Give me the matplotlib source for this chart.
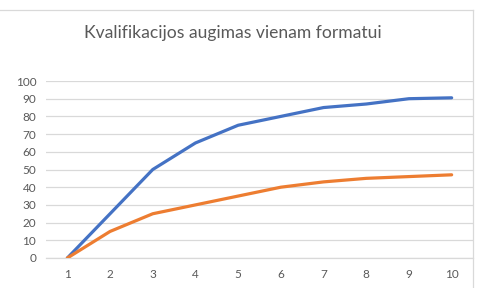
import matplotlib
matplotlib.use("Agg")
import matplotlib.pyplot as plt
from matplotlib.lines import Line2D

categories = [1, 2, 3, 4, 5, 6, 7, 8, 9, 10]
series_blue = [0, 25, 50, 65, 75, 80, 85, 87, 90, 90.5]
series_orange = [0, 15, 25, 30, 35, 40, 43, 45, 46, 47]
y_ticks = [0, 10, 20, 30, 40, 50, 60, 70, 80, 90, 100]
title = "Kvalifikacijos augimas vienam formatui"

plt.rcParams['font.family'] = ['Lato', 'DejaVu Sans']
W, H = 489, 288
fig = plt.figure(figsize=(W / 100, H / 100), dpi=100)
ax = fig.add_axes([46 / W, 1 - 258 / H, (473 - 46) / W, (258 - 81) / H])

xs = list(range(len(categories)))
ax.plot(xs, series_blue, color='#4472C4', lw=2.3, solid_capstyle='round', zorder=3)
ax.plot(xs, series_orange, color='#ED7D31', lw=2.3, solid_capstyle='round', zorder=3)

ax.set_xlim(-0.5, len(categories) - 0.5)
ax.set_ylim(0, 100)
ax.set_yticks(y_ticks)
ax.set_xticks(xs)
ax.set_xticklabels([str(c) for c in categories])
ax.yaxis.grid(True, color='#d9d9d9', lw=0.9)
ax.set_axisbelow(True)
for s in ['top', 'right', 'left']:
    ax.spines[s].set_visible(False)
ax.spines['bottom'].set_color('#d9d9d9')
ax.spines['bottom'].set_linewidth(0.9)
ax.tick_params(axis='both', length=0, colors='#595959', labelsize=8.5)
ax.tick_params(axis='y', pad=7)
ax.tick_params(axis='x', pad=8)

fig.text(233 / W, 1 - 33 / H, title, ha='center', va='center',
         fontsize=12.6, color='#595959')

fig.add_artist(Line2D([0, 473.5 / W], [1 - 9.5 / H, 1 - 9.5 / H],
                      color='#d9d9d9', lw=0.9, transform=fig.transFigure))
fig.add_artist(Line2D([473.5 / W, 473.5 / W], [1 - 9.5 / H, 0],
                      color='#d9d9d9', lw=0.9, transform=fig.transFigure))

fig.savefig('out.png', dpi=100, facecolor='white')
